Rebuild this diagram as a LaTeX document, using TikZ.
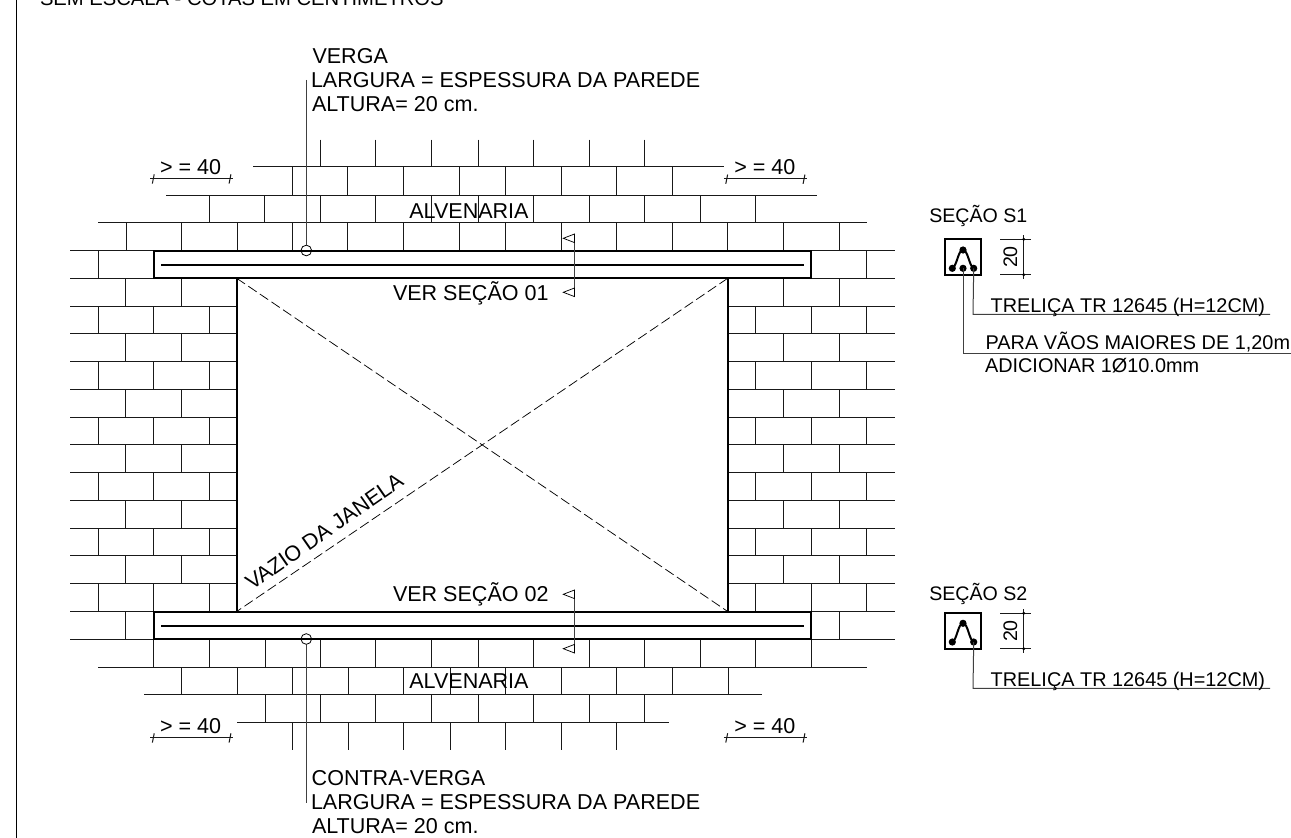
\documentclass[tikz,border=0pt]{standalone}
\usepackage{fontspec}
\setmainfont{Liberation Sans}
\tikzset{
  px/.style={x=0.75pt,y=-0.75pt},
  thinl/.style={line width=0.75pt,black!90},
  heavy/.style={line width=1.5pt,black},
  lead/.style={line width=0.75pt,black!75},
  diag/.style={line width=0.55pt,dash pattern=on 7.5pt off 3pt},
  lbl/.style={anchor=base west,inner sep=0pt,outer sep=0pt,font=\fontsize{16.15}{18}\selectfont},
  lbls/.style={anchor=base west,inner sep=0pt,outer sep=0pt,font=\fontsize{14.9}{17}\selectfont},
  lblh/.style={anchor=base west,inner sep=0pt,outer sep=0pt,font=\fontsize{14.7}{17}\selectfont},
  dimv/.style={anchor=base,rotate=90,inner sep=0pt,outer sep=0pt,font=\fontsize{14.7}{17}\selectfont},
  bdot/.style={circle,fill=black,inner sep=0pt,minimum size=5.4pt},
  tdot/.style={circle,fill=black,inner sep=0pt,minimum size=2.4pt},
  ring/.style={circle,draw=black,line width=0.6pt,fill=none,inner sep=0pt,minimum size=8pt},
  secbox/.style={draw=black,line width=1.5pt,minimum width=27pt,minimum height=26.6pt,inner sep=0pt},
}
\newcommand{\vrow}[3]{\foreach \xx in {#3} \draw[thinl] (\xx,#1) -- (\xx,#2);}
\newcommand{\dimmark}[4]{% name, x1, x2, y
  \coordinate (#1a) at (#2,#4); \coordinate (#1b) at (#3,#4);
  \draw[thinl] ([xshift=-2.2pt]#1a) -- ([xshift=2.2pt]#1b);
  \draw[thinl] ([shift={(0.7pt,2.8pt)}]#1a) -- ([shift={(-0.7pt,-4.2pt)}]#1a);
  \draw[thinl] ([shift={(0.7pt,2.8pt)}]#1b) -- ([shift={(-0.7pt,-4.2pt)}]#1b);
}
\begin{document}
\begin{tikzpicture}[px]
\useasboundingbox (0,0) rectangle (1291,838);
\begin{scope}
\clip (0,0) rectangle (1291,838);
% border
\coordinate (bt) at (16.5,0); \coordinate (bb) at (16.5,838);
\draw[line width=0.75pt] (bt) -- (bb);
\node[lbl,font=\fontsize{15.15}{17}\selectfont] (title) at (40,6) {SEM ESCALA - COTAS EM CENTIMETROS};

% horizontal courses
\draw[thinl] (253,167) -- (724,167);
\draw[thinl] (166,195) -- (816.7,195);
\draw[thinl] (98,222.8) -- (866.7,222.8);
\draw[thinl] (70,250.5) -- (895,250.5);
\foreach \yy in {278.3,306,333.8,361.5,389.3,417,444.8,472.5,500.3,528,555.8,583.6,611.5,639}
  \draw[thinl] (70,\yy) -- (895,\yy);
\draw[thinl] (98,667) -- (866.7,667);
\draw[thinl] (144,694.7) -- (761.7,694.7);
\draw[thinl] (237,722.4) -- (668.7,722.4);

% upper verticals
\vrow{139.6}{167}{320,375.5,431,478,533.5,589,644.7}
\vrow{167}{195}{292.3,347.7,403.3,459,505.7,561.3,616.7,672.3}
\vrow{195}{222.8}{209,264.7,320,375.5,431,478,533.5,589,644.7,700,755.7}
\vrow{222.8}{250.5}{126,181.7,237,292.3,347.7,403.3,459,505.7,561.3,616.7,672.3,727.7,783.3,839}
\vrow{250.5}{278.3}{98,866.7}
% side walls
\foreach \ya/\yb in {278.3/306,333.8/361.5,389.3/417,444.8/472.5,500.3/528,555.8/583.6}
  {\vrow{\ya}{\yb}{125.7,181.7,783.3,839}}
\foreach \ya/\yb in {306/333.8,361.5/389.3,417/444.8,472.5/500.3,528/555.8,583.6/611.5}
  {\vrow{\ya}{\yb}{98,153.7,209,755.7,811,866.7}}
\vrow{611.5}{639}{125.7,839}
% lower verticals
\vrow{639}{667}{153.7,209,265,320,375.7,431,478,533.3,589,644.7,700,755.7,811}
\vrow{667}{694.7}{181.7,237,292.3,348,403.3,450.5,505.7,561.3,616.7,672.3,728}
\vrow{694.7}{722.4}{265,320,375.7,431,478,533.3,589,644.7}
\vrow{722.4}{750.2}{292.3,348,403.3,450.5,505.7,561.3,616.7}

% opening: white interiors
\fill[white] (153.7,250.5) rectangle (811,278.3);
\fill[white] (153.7,611.5) rectangle (811,639);
\fill[white] (236.7,278.3) rectangle (727.7,611.5);

% window jambs and diagonals
\coordinate (wtl) at (236.7,278.3); \coordinate (wtr) at (727.7,278.3);
\coordinate (wbl) at (236.7,611.5); \coordinate (wbr) at (727.7,611.5);
\draw[diag] (wtl) -- (wbr);
\draw[diag] (wtr) -- (wbl);
\draw[heavy] (wtl) -- (wbl);
\draw[heavy] (wtr) -- (wbr);

% beams
\draw[heavy] (153.7,250.5) rectangle (811,278.3);
\draw[heavy] (161,264.5) -- (803.7,264.5);
\draw[heavy] (153.7,611.5) rectangle (811,639);
\draw[heavy] (161,625.5) -- (803.7,625.5);

% callouts
\node[ring] (cv) at (306.3,250.5) {};
\node[ring] (cc) at (306.3,639) {};
\coordinate (lv) at (306.3,80); \coordinate (lc) at (306.3,803);
\draw[lead] (lv) -- (cv);
\draw[lead] (cc) -- (lc);

% section marks
\coordinate (s1t) at (574.5,235); \coordinate (s1b) at (574.5,296.7);
\coordinate (s2t) at (574.5,590); \coordinate (s2b) at (574.5,652.7);
\draw[lead] (s1t) -- (s1b);
\draw[lead] (s2t) -- (s2b);
\foreach \yy in {238.3,292.3,594.3,648.7}
  \draw[line width=0.55pt] (574.5,\yy-4.3) -- (563.3,\yy) -- (574.5,\yy+4.3) -- cycle;

% dimension lines >= 40
\dimmark{da}{153.3}{230}{178}
\dimmark{db}{726.7}{804}{178.3}
\dimmark{dc}{153.3}{230}{737}
\dimmark{dd}{726.7}{804}{737}
\node[lbl] (t40a) at (160,174.3) {> = 40};
\node[lbl] (t40b) at (734.3,175) {> = 40};
\node[lbl] (t40c) at (160,733.3) {> = 40};
\node[lbl] (t40d) at (734.3,733.3) {> = 40};

% main labels
\node[lbl] (t1) at (312.5,63.3) {VERGA};
\node[lbl] (t2) at (311,87.3) {LARGURA = ESPESSURA DA PAREDE};
\node[lbl] (t3) at (312,111.7) {ALTURA= 20 cm.};
\node[lbl] (t4) at (311.7,785) {CONTRA-VERGA};
\node[lbl] (t5) at (311,809.3) {LARGURA = ESPESSURA DA PAREDE};
\node[lbl] (t6) at (312,833.3) {ALTURA= 20 cm.};
\node[lbl] (alv1) at (409.3,218.3) {ALVENARIA};
\node[lbl] (alv2) at (409.3,688.3) {ALVENARIA};
\node[lbl] (vs1) at (393,300) {VER SEÇÃO 01};
\node[lbl] (vs2) at (393,601) {VER SEÇÃO 02};
\node[lbl,rotate=34.8] (vz) at (252,590.5) {VAZIO DA JANELA};

% section S1
\node[lblh] (h1) at (929.3,222.7) {SEÇÃO S1};
\node[secbox] (b1) at (963,257) {};
\node[bdot] (d1a) at (952.3,268.3) {};
\node[bdot] (d1b) at (963,268.3) {};
\node[bdot] (d1c) at (973.7,268.3) {};
\node[bdot] (d1t) at (963,250) {};
\draw[line width=1.5pt] (d1a.center) .. controls (957,266) and (958,250) .. (d1t.center) .. controls (968,250) and (969,266) .. (d1c.center);
\coordinate (e1a) at (1000,239.3); \coordinate (e1b) at (1031,239.3);
\coordinate (e1c) at (1000,274.7); \coordinate (e1d) at (1031,274.7);
\coordinate (v1a) at (1023.7,235); \coordinate (v1b) at (1023.7,279.3);
\draw[thinl] (e1a) -- (e1b);
\draw[thinl] (e1c) -- (e1d);
\draw[thinl] (v1a) -- (v1b);
\node[tdot] at (1023.7,239.3) {};
\node[tdot] at (1023.7,274.7) {};
\node[dimv] (n1) at (1017,257) {20};
\coordinate (k1) at (973,314.3); \coordinate (k1e) at (1270,314.3);
\draw[lead] (d1c.center) -- (k1) -- (k1e);
\coordinate (k2) at (963,353.3); \coordinate (k2e) at (1291,353.3);
\draw[lead] (d1b.center) -- (k2) -- (k2e);
\node[lbls] (tr1) at (990.7,312.7) {TRELIÇA TR 12645 (H=12CM)};
\node[lbls] (pv) at (985.7,349) {PARA VÃOS MAIORES DE 1,20m};
\node[lbls] (ad) at (985,372.3) {ADICIONAR 1Ø10.0mm};

% section S2
\node[lblh] (h2) at (929.3,600.7) {SEÇÃO S2};
\node[secbox] (b2) at (963,631) {};
\node[bdot] (d2a) at (952.3,642) {};
\node[bdot] (d2c) at (973.7,642) {};
\node[bdot] (d2t) at (963,623.3) {};
\draw[line width=1.5pt] (d2a.center) .. controls (957,640) and (958,623.3) .. (d2t.center) .. controls (968,623.3) and (969,640) .. (d2c.center);
\coordinate (e2a) at (1000,613.3); \coordinate (e2b) at (1031,613.3);
\coordinate (e2c) at (1000,648.7); \coordinate (e2d) at (1031,648.7);
\coordinate (v2a) at (1023.7,609.3); \coordinate (v2b) at (1023.7,653.3);
\draw[thinl] (e2a) -- (e2b);
\draw[thinl] (e2c) -- (e2d);
\draw[thinl] (v2a) -- (v2b);
\node[tdot] at (1023.7,613.3) {};
\node[tdot] at (1023.7,648.7) {};
\node[dimv] (n2) at (1017,631) {20};
\coordinate (k3) at (973,688.3); \coordinate (k3e) at (1270,688.3);
\draw[lead] (d2c.center) -- (k3) -- (k3e);
\node[lbls] (tr2) at (990.7,686) {TRELIÇA TR 12645 (H=12CM)};
\end{scope}
\end{tikzpicture}
\end{document}
